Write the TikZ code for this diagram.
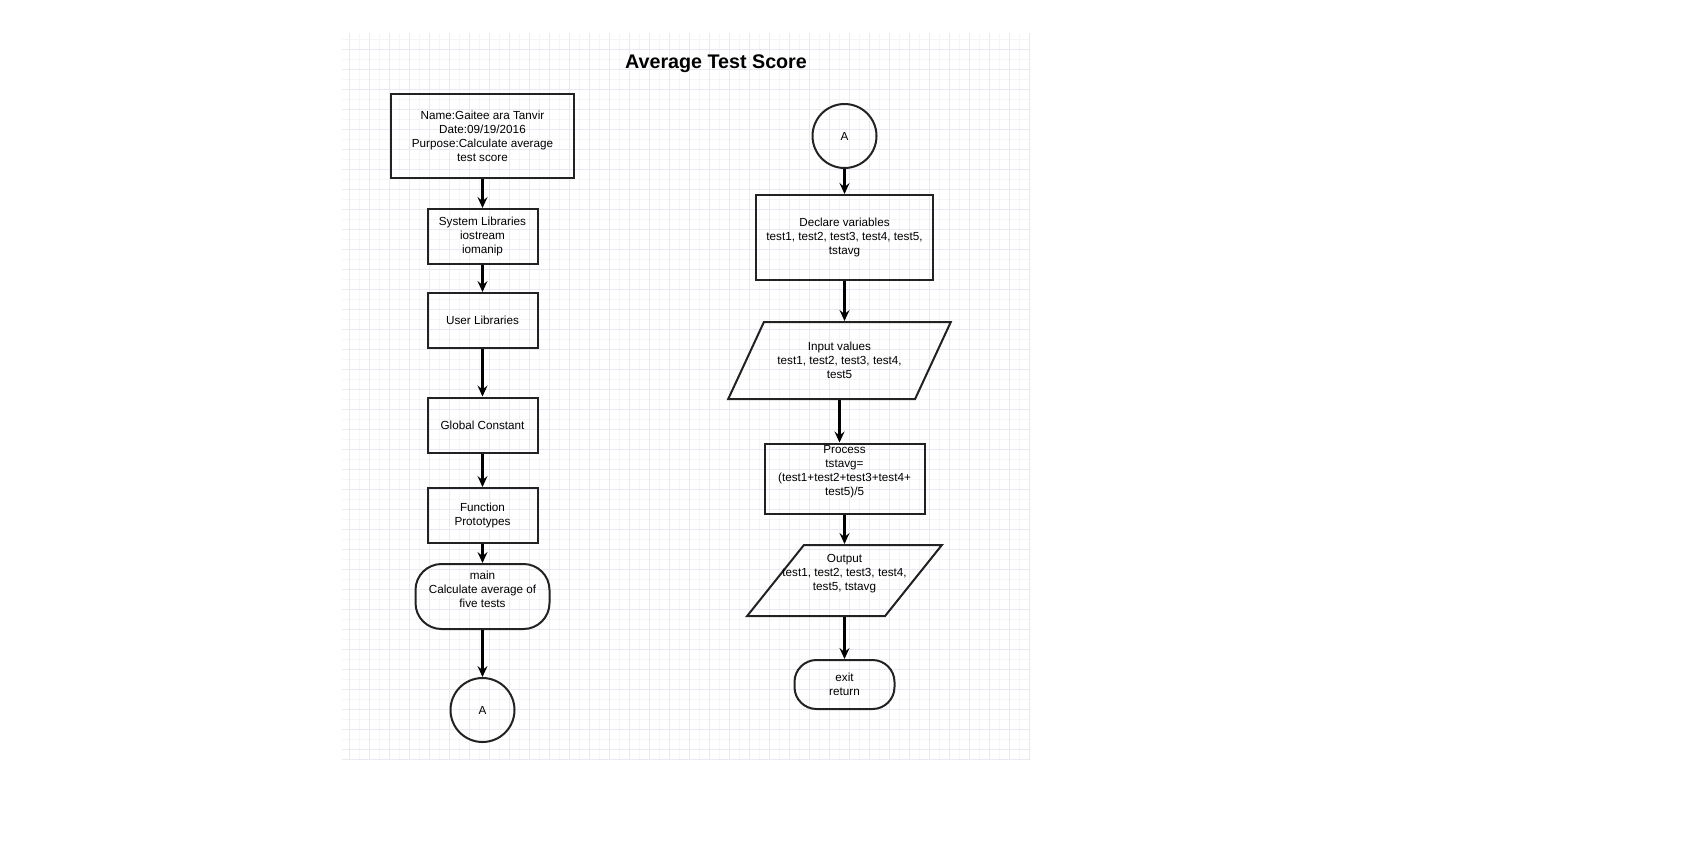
\documentclass[tikz,border=0pt]{standalone}
\usepackage{fontspec}
\setmainfont{Liberation Sans}
\usetikzlibrary{shapes.geometric,arrows.meta}
\newcommand\bodyfont{\fontsize{11.7}{14}\selectfont}
\definecolor{gridminor}{RGB}{246,246,250}
\definecolor{gridmajor}{RGB}{233,233,242}
\definecolor{edge}{RGB}{34,34,34}
\tikzset
 {> = {Stealth[length=11pt,width=10pt,inset=4pt]},    % chevron-like tips
  base/.style = {draw=edge, line width=2pt, font=\bodyfont, align=center,
                 inner sep=0pt},
  proc/.style = {base, rectangle},                         % plain boxes
  term/.style = {base, rectangle, rounded corners=#1},     % start / end
  term/.default = 22pt,
  conn/.style = {base, circle, minimum size=64pt},         % page connector
  io/.style = {base, trapezium, trapezium left angle=55,   % input / output
               trapezium right angle=125, trapezium stretches=true,
               inner sep=4pt},
  flow/.style = {->, draw=black, line width=2.4pt},
  uptext/.style = {label={[font=\bodyfont, align=center, inner sep=0pt,
                           yshift=7pt]center:#1}}          % text sits high
 }
\begin{document}
\begin{tikzpicture}[x=1pt,y=-1pt]
    \useasboundingbox (0,0) rectangle (1688,846);
    \fill[white] (0,0) rectangle (1688,846);
    % background grid
    \foreach \x in {349,359,...,1029}
        \draw[gridminor, line width=1pt] (\x,33) -- (\x,759);
    \foreach \y in {39,49,...,749}
        \draw[gridminor, line width=1pt] (342,\y) -- (1030,\y);
    \foreach \x in {349,369,...,1029}
        \draw[gridmajor, line width=1pt] (\x,33) -- (\x,759);
    \foreach \y in {49,69,...,749}
        \draw[gridmajor, line width=1pt] (342,\y) -- (1030,\y);
    \draw[gridmajor, line width=1pt] (342,759) -- (1030,759);

    \node[font=\fontsize{19.7}{24}\selectfont\bfseries] (title) at (716,64)
        {Average Test Score};

    % left column
    \node[proc, minimum width=183pt, minimum height=84pt] (header) at (482.5,136)
        {Name:Gaitee ara Tanvir\\Date:09/19/2016\\Purpose:Calculate average\\test score};
    \node[proc, minimum width=110pt, minimum height=55pt] (syslib) at (482.5,236.5)
        {System Libraries\\iostream\\iomanip};
    \node[proc, minimum width=110pt, minimum height=55pt] (userlib) at (482.5,320.5)
        {User Libraries};
    \node[proc, minimum width=110pt, minimum height=55pt] (globconst) at (482.5,425)
        {Global Constant};
    \node[proc, minimum width=110pt, minimum height=55pt] (protos) at (482.5,515.5)
        {Function\\Prototypes};
    \node[term=26pt, minimum width=134pt, minimum height=65pt,
          uptext={main\\Calculate average of\\five tests}] (mainfn) at (482.5,596.5) {};
    \node[conn] (offA) at (482.5,710) {A};

    % right column
    \node[conn] (onA) at (844.5,136) {A};
    \node[proc, minimum width=177pt, minimum height=85pt] (declare) at (844.5,237.5)
        {Declare variables\\test1, test2, test3, test4, test5,\\tstavg};
    \node[io, minimum width=223pt, minimum height=77pt] (input) at (839.5,360.5)
        {Input values\\test1, test2, test3, test4,\\test5};
    \node[proc, minimum width=160pt, minimum height=70pt,
          uptext={Process\\tstavg=\\(test1+test2+test3+test4+\\test5)/5}] (calc) at (844.5,478.5) {};
    \node[io, minimum width=195pt, minimum height=71pt,
          uptext={Output\\test1, test2, test3, test4,\\test5, tstavg}] (output) at (844.5,580.5) {};
    \node[term=22pt, minimum width=100pt, minimum height=49pt] (exit) at (844.5,684.5)
        {exit\\return};

    \draw[flow] (header) -- (syslib);
    \draw[flow] (syslib) -- (userlib);
    \draw[flow] (userlib) -- (globconst);
    \draw[flow] (globconst) -- (protos);
    \draw[flow] (protos) -- (mainfn);
    \draw[flow] (mainfn) -- (offA);
    \draw[flow] (onA) -- (declare);
    \draw[flow] (declare.south) -- (declare.south |- input.north);
    \draw[flow] (input.south) -- (input.south |- calc.north);
    \draw[flow] (calc) -- (output);
    \draw[flow] (output) -- (exit);
\end{tikzpicture}
\end{document}
